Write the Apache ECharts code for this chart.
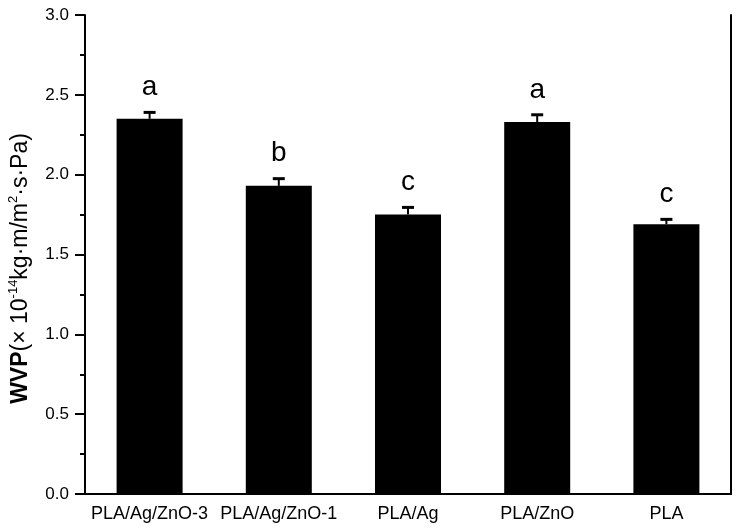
<!DOCTYPE html>
<html>
<head>
<meta charset="utf-8">
<script src="https://cdn.jsdelivr.net/npm/echarts@6/dist/echarts.min.js"></script>
<style>
html,body{margin:0;padding:0;background:#fff;}
#c{width:742px;height:530px;}
</style>
</head>
<body>
<div id="c"></div>
<script>
var categories = ['PLA/Ag/ZnO-3', 'PLA/Ag/ZnO-1', 'PLA/Ag', 'PLA/ZnO', 'PLA'];
var wvpValues = [2.35, 1.93, 1.75, 2.33, 1.69];
var wvpErrors = [0.04, 0.045, 0.045, 0.045, 0.03];
var groupLetters = ['a', 'b', 'c', 'a', 'c'];
var yTicks = { min: 0, max: 3.0, interval: 0.5 };

var FONT = '"Liberation Sans", Arial, sans-serif';
var chart = echarts.init(document.getElementById('c'), null, { renderer: 'canvas' });

var errData = wvpValues.map(function (v, i) { return [i, v, wvpErrors[i], groupLetters[i]]; });

var option = {
  backgroundColor: '#fff',
  animation: false,
  grid: { left: 85, right: 11, top: 15, bottom: 36, containLabel: false, outerBoundsMode: 'none' },
  xAxis: [{
    type: 'category',
    data: categories,
    position: 'bottom',
    axisLine: { show: true, lineStyle: { color: '#000', width: 2 } },
    axisTick: { show: false },
    axisLabel: { color: '#000', fontFamily: FONT, fontSize: 18, margin: 11, interval: 0, hideOverlap: false },
    splitLine: { show: false }
  }, {
    type: 'category',
    data: categories,
    position: 'top',
    axisLine: { show: true, lineStyle: { color: '#000', width: 2 } },
    axisTick: { show: false },
    axisLabel: { show: false },
    splitLine: { show: false }
  }],
  yAxis: [{
    type: 'value',
    min: yTicks.min,
    max: yTicks.max,
    interval: yTicks.interval,
    position: 'left',
    axisLine: { show: true, lineStyle: { color: '#000', width: 2 } },
    axisTick: { show: true, inside: false, length: 10, lineStyle: { color: '#000', width: 2 } },
    minorTick: { show: true, splitNumber: 2, length: 5, lineStyle: { color: '#000', width: 2 } },
    axisLabel: {
      color: '#000', fontFamily: FONT, fontSize: 17, margin: 16,
      formatter: function (v) { return v.toFixed(1); }
    },
    splitLine: { show: false },
    name: '{b|WVP}{n|(× 10}{s|-14}{n|kg·m/m}{s|2}{n|·s·Pa)}',
    nameLocation: 'middle',
    nameRotate: 90,
    nameGap: 50,
    nameTextStyle: {
      color: '#000',
      fontFamily: FONT,
      padding: [0, 28, 0, 0],
      rich: {
        b: { fontFamily: FONT, fontSize: 23, fontWeight: 'bold', color: '#000', lineHeight: 28 },
        n: { fontFamily: FONT, fontSize: 23, color: '#000', lineHeight: 28 },
        s: { fontFamily: FONT, fontSize: 13, color: '#000', lineHeight: 28, verticalAlign: 'top' }
      }
    }
  }, {
    type: 'value',
    min: yTicks.min,
    max: yTicks.max,
    interval: yTicks.interval,
    position: 'right',
    axisLine: { show: true, lineStyle: { color: '#000', width: 2 } },
    axisTick: { show: false },
    axisLabel: { show: false },
    splitLine: { show: false }
  }],
  series: [{
    type: 'bar',
    data: wvpValues,
    barWidth: 66,
    itemStyle: { color: '#000' },
    xAxisIndex: 0,
    yAxisIndex: 0,
    z: 2
  }, {
    type: 'custom',
    xAxisIndex: 0,
    yAxisIndex: 0,
    data: errData,
    z: 3,
    renderItem: function (params, api) {
      var i = api.value(0), v = api.value(1), e = api.value(2);
      var top = api.coord([i, v]);
      var cap = api.coord([i, v + e]);
      var x = top[0];
      return {
        type: 'group',
        children: [{
          type: 'line',
          shape: { x1: x, y1: top[1], x2: x, y2: cap[1] },
          style: { stroke: '#000', lineWidth: 2 }
        }, {
          type: 'line',
          shape: { x1: x - 6, y1: cap[1], x2: x + 6, y2: cap[1] },
          style: { stroke: '#000', lineWidth: 3 }
        }, {
          type: 'text',
          style: {
            text: groupLetters[params.dataIndex],
            x: x,
            y: cap[1] - 11,
            align: 'center',
            verticalAlign: 'bottom',
            fontFamily: FONT,
            fontSize: 28,
            fill: '#000'
          }
        }]
      };
    }
  }]
};
chart.setOption(option);
</script>
</body>
</html>
